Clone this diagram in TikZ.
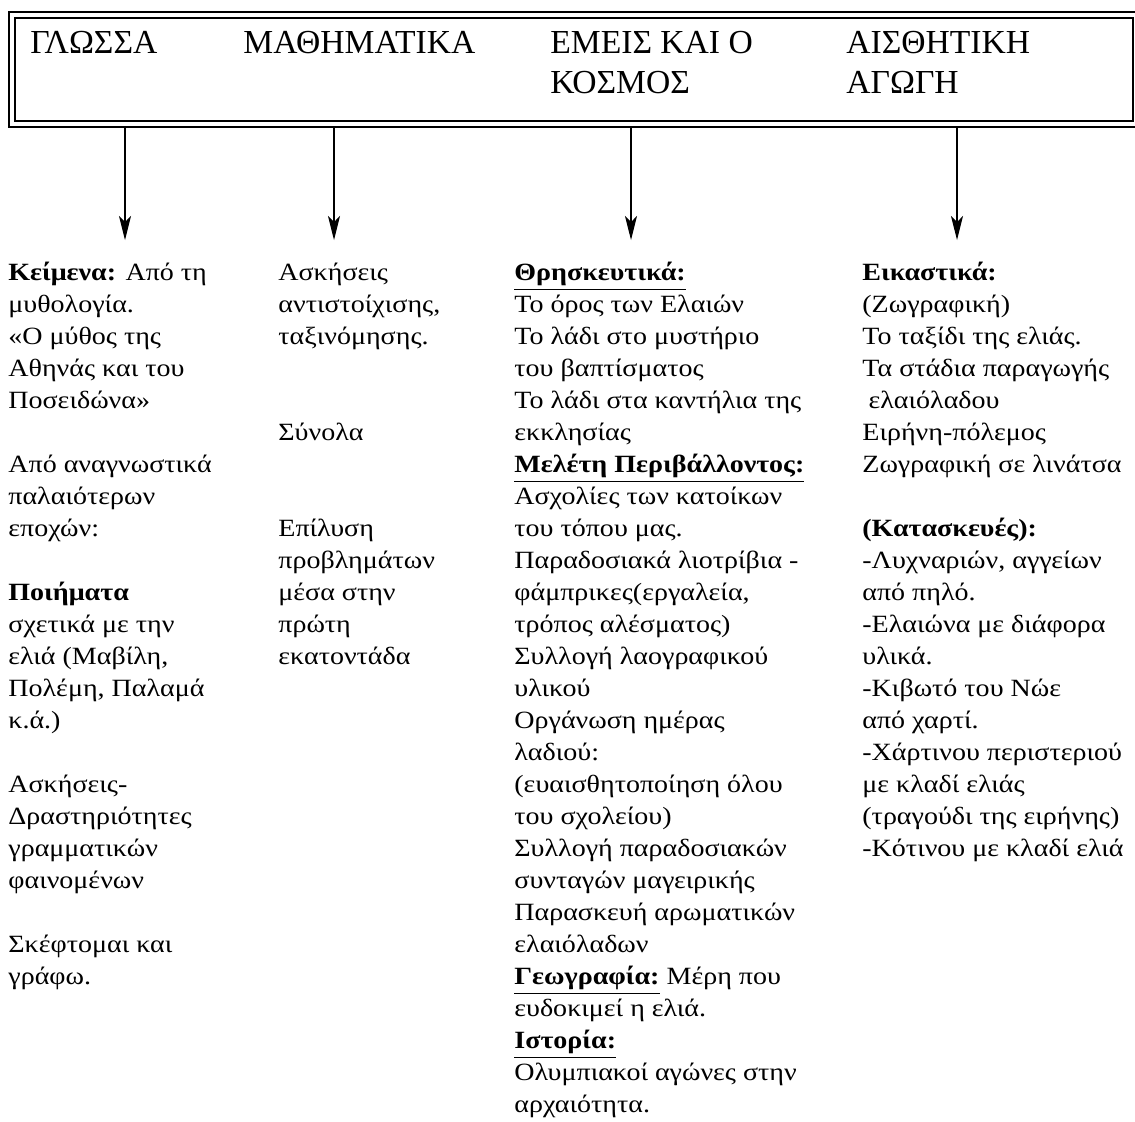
\documentclass[tikz,border=0pt]{standalone}
\usepackage{fontspec}
\setmainfont{Liberation Serif}
\newfontfamily\bodyfont[FakeStretch=1.13]{Liberation Serif}
\usetikzlibrary{arrows.meta}
\usetikzlibrary{calc}
\tikzstyle{headbox} = [draw, double, line width=1pt, double distance=2pt, inner sep=0, minimum width=562.25pt, minimum height=54.5pt, anchor=north west]
\tikzstyle{headnode} = [anchor=north west, inner sep=0, align=left, font=\fontsize{16.8pt}{20pt}\selectfont]
\tikzstyle{colnode} = [anchor=north west, inner sep=0, align=left, font=\bodyfont\fontsize{12.4pt}{16pt}\selectfont]
\tikzstyle{downarrow} = [-{Stealth[length=12pt, width=6pt, inset=3pt]}, line width=0.6pt, shorten <=1.5pt]
\newcommand{\ulbf}[1]{\underline{\textbf{#1}}}

\begin{document}
\begin{tikzpicture}[x=0.5pt, y=-0.5pt]
    \useasboundingbox (0,0) rectangle (1135,1121);

    % subjects
    \node[headbox] (header) at (10.5,13.5) {};
    \node[headnode] (gl_head) at (30,25) {\strut ΓΛΩΣΣΑ};
    \node[headnode] (ma_head) at (243,25) {\strut ΜΑΘΗΜΑΤΙΚΑ};
    \node[headnode] (ek_head) at (550,25) {\strut ΕΜΕΙΣ ΚΑΙ Ο\\ΚΟΣΜΟΣ};
    \node[headnode] (ai_head) at (846,25) {\strut ΑΙΣΘΗΤΙΚΗ\\ΑΓΩΓΗ};

    % arrows
    \coordinate (gl_tip) at (125,240);
    \coordinate (ma_tip) at (334,240);
    \coordinate (ek_tip) at (631,240);
    \coordinate (ai_tip) at (957,240);
    \draw[downarrow] (header.south -| gl_tip) -- (gl_tip);
    \draw[downarrow] (header.south -| ma_tip) -- (ma_tip);
    \draw[downarrow] (header.south -| ek_tip) -- (ek_tip);
    \draw[downarrow] (header.south -| ai_tip) -- (ai_tip);

    % activities
    \node[colnode] (gl_text) at (8,258) {\strut\textbf{Κείμενα:} Από τη\\
        μυθολογία.\\
        «Ο μύθος της\\
        Αθηνάς και του\\
        Ποσειδώνα»\\[16pt]
        Από αναγνωστικά\\
        παλαιότερων\\
        εποχών:\\[16pt]
        \textbf{Ποιήματα}\\
        σχετικά με την\\
        ελιά (Μαβίλη,\\
        Πολέμη, Παλαμά\\
        κ.ά.)\\[16pt]
        Ασκήσεις-\\
        Δραστηριότητες\\
        γραμματικών\\
        φαινομένων\\[16pt]
        Σκέφτομαι και\\
        γράφω.};
    \node[colnode] (ma_text) at (278,258) {\strut Ασκήσεις\\
        αντιστοίχισης,\\
        ταξινόμησης.\\[32pt]
        Σύνολα\\[32pt]
        Επίλυση\\
        προβλημάτων\\
        μέσα στην\\
        πρώτη\\
        εκατοντάδα};
    \node[colnode] (ek_text) at (514,258) {\strut\ulbf{Θρησκευτικά:}\\
        Το όρος των Ελαιών\\
        Το λάδι στο μυστήριο\\
        του βαπτίσματος\\
        Το λάδι στα καντήλια της\\
        εκκλησίας\\
        \ulbf{Μελέτη Περιβάλλοντος:}\\
        Ασχολίες των κατοίκων\\
        του τόπου μας.\\
        Παραδοσιακά λιοτρίβια -\\
        φάμπρικες(εργαλεία,\\
        τρόπος αλέσματος)\\
        Συλλογή λαογραφικού\\
        υλικού\\
        Οργάνωση ημέρας\\
        λαδιού:\\
        (ευαισθητοποίηση όλου\\
        του σχολείου)\\
        Συλλογή παραδοσιακών\\
        συνταγών μαγειρικής\\
        Παρασκευή αρωματικών\\
        ελαιόλαδων\\
        \ulbf{Γεωγραφία:} Μέρη που\\
        ευδοκιμεί η ελιά.\\
        \ulbf{Ιστορία:}\\
        Ολυμπιακοί αγώνες στην\\
        αρχαιότητα.};
    \node[colnode] (ai_text) at (862,258) {\strut\textbf{Εικαστικά:}\\
        (Ζωγραφική)\\
        Το ταξίδι της ελιάς.\\
        Τα στάδια παραγωγής\\
        \hspace{0.25em}ελαιόλαδου\\
        Ειρήνη-πόλεμος\\
        Ζωγραφική σε λινάτσα\\[16pt]
        \textbf{(Κατασκευές):}\\
        -Λυχναριών, αγγείων\\
        από πηλό.\\
        -Ελαιώνα με διάφορα\\
        υλικά.\\
        -Κιβωτό του Νώε\\
        από χαρτί.\\
        -Χάρτινου περιστεριού\\
        με κλαδί ελιάς\\
        (τραγούδι της ειρήνης)\\
        -Κότινου με κλαδί ελιά};
\end{tikzpicture}
\end{document}
